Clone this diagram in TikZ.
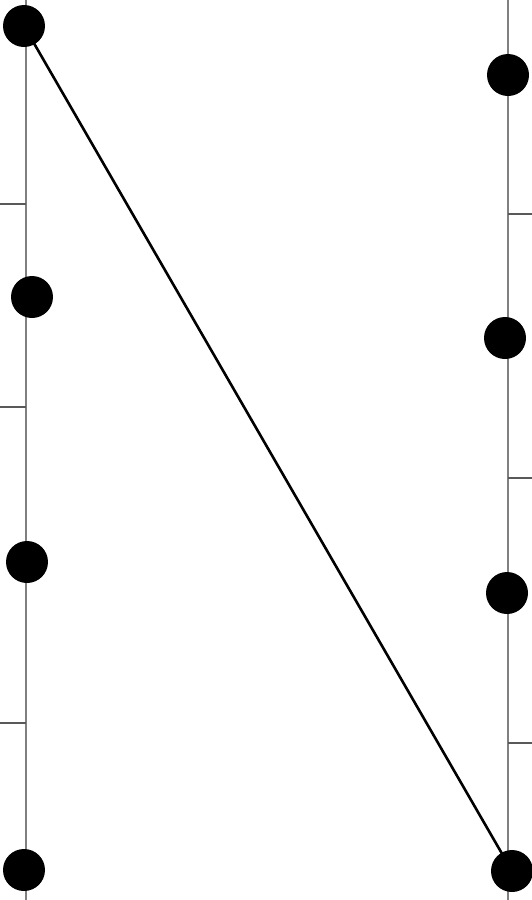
\documentclass[tikz,border=0pt]{standalone}
\begin{document}
\begin{tikzpicture}[x=1pt, y=-1pt,
    dot/.style={circle, fill=black, inner sep=0pt, minimum size=42pt}]
    % Fix the frame of the picture
    \useasboundingbox (0,0) rectangle (532,900);
    % Draw the two vertical axes
    \draw[gray, line width=2pt] (26,0) -- (26,900);
    \draw[gray, line width=2pt] (508,0) -- (508,900);
    % Draw the ticks on each axis
    \foreach \y in {204, 407, 723} {
        \draw[gray!70!black, line width=1.2pt] (0,\y) -- (26,\y);
    }
    \foreach \y in {214, 478, 743} {
        \draw[gray!70!black, line width=1.2pt] (508,\y) -- (532,\y);
    }
    % Draw the points on the left and on the right
    \foreach \n/\x/\y in {1/24/26, 2/32/297, 3/27/562, 4/24/870} {
        \node[dot] (l\n) at (\x,\y) {};
    }
    \foreach \n/\x/\y in {1/508/75, 2/505/338, 3/507/593, 4/512/871} {
        \node[dot] (r\n) at (\x,\y) {};
    }
    % Join the first left point to the last right point
    \draw[line width=2.6pt] (l1.center) -- (r4.center);
\end{tikzpicture}
\end{document}
